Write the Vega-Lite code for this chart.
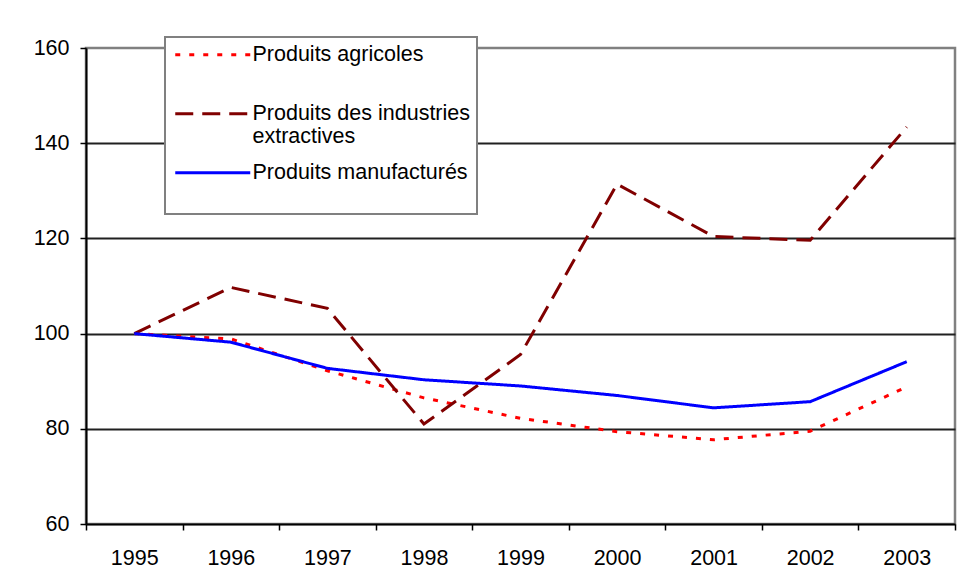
{
  "$schema": "https://vega.github.io/schema/vega-lite/v6.json",
  "width": 869,
  "height": 476,
  "autosize": "none",
  "padding": {"left": 86, "top": 48, "right": 4, "bottom": 63},
  "background": "white",
  "config": {
    "font": "Liberation Sans",
    "view": {"stroke": "#808080", "strokeWidth": 2.5},
    "legend": {"strokeColor": "#808080", "strokeWidth": 2, "fillColor": "white"}
  },
  "data": {
    "values": [
      {"annee": "1995", "serie": "Produits agricoles", "valeur": 100},
      {"annee": "1996", "serie": "Produits agricoles", "valeur": 98.9},
      {"annee": "1997", "serie": "Produits agricoles", "valeur": 92.2},
      {"annee": "1998", "serie": "Produits agricoles", "valeur": 86.5},
      {"annee": "1999", "serie": "Produits agricoles", "valeur": 82.2},
      {"annee": "2000", "serie": "Produits agricoles", "valeur": 79.4},
      {"annee": "2001", "serie": "Produits agricoles", "valeur": 77.7},
      {"annee": "2002", "serie": "Produits agricoles", "valeur": 79.5},
      {"annee": "2003", "serie": "Produits agricoles", "valeur": 88.8},
      {"annee": "1995", "serie": "Produits des industries extractives", "valeur": 100},
      {"annee": "1996", "serie": "Produits des industries extractives", "valeur": 109.7},
      {"annee": "1997", "serie": "Produits des industries extractives", "valeur": 105.3},
      {"annee": "1998", "serie": "Produits des industries extractives", "valeur": 81.0},
      {"annee": "1999", "serie": "Produits des industries extractives", "valeur": 95.6},
      {"annee": "2000", "serie": "Produits des industries extractives", "valeur": 131.4},
      {"annee": "2001", "serie": "Produits des industries extractives", "valeur": 120.4},
      {"annee": "2002", "serie": "Produits des industries extractives", "valeur": 119.6},
      {"annee": "2003", "serie": "Produits des industries extractives", "valeur": 143.4},
      {"annee": "1995", "serie": "Produits manufacturés", "valeur": 100},
      {"annee": "1996", "serie": "Produits manufacturés", "valeur": 98.2},
      {"annee": "1997", "serie": "Produits manufacturés", "valeur": 92.7},
      {"annee": "1998", "serie": "Produits manufacturés", "valeur": 90.3},
      {"annee": "1999", "serie": "Produits manufacturés", "valeur": 89.0},
      {"annee": "2000", "serie": "Produits manufacturés", "valeur": 87.0},
      {"annee": "2001", "serie": "Produits manufacturés", "valeur": 84.4},
      {"annee": "2002", "serie": "Produits manufacturés", "valeur": 85.7},
      {"annee": "2003", "serie": "Produits manufacturés", "valeur": 94.1}
    ]
  },
  "mark": {"type": "line", "strokeCap": "butt", "strokeJoin": "miter"},
  "encoding": {
    "x": {
      "field": "annee",
      "type": "ordinal",
      "bandPosition": 0.5,
      "scale": {"type": "band", "paddingInner": 0, "paddingOuter": 0},
      "axis": {
        "title": null,
        "labelAngle": 0,
        "labelFontSize": 21.5,
        "labelColor": "black",
        "labelPadding": 17,
        "domainColor": "black",
        "domainWidth": 2,
        "tickColor": "black",
        "tickWidth": 1.5,
        "tickSize": 6,
        "tickBand": "extent",
        "grid": false
      }
    },
    "y": {
      "field": "valeur",
      "type": "quantitative",
      "scale": {"domain": [60, 160], "nice": false},
      "axis": {
        "title": null,
        "values": [60, 80, 100, 120, 140, 160],
        "labelFontSize": 21.5,
        "labelColor": "black",
        "labelPadding": 11,
        "domainColor": "black",
        "domainWidth": 2,
        "tickColor": "black",
        "tickWidth": 1.5,
        "tickSize": 6,
        "grid": true,
        "gridColor": {"condition": {"test": "datum.value == 160 || datum.value == 60", "value": "transparent"}, "value": "#202020"},
        "gridWidth": 2
      }
    },
    "color": {
      "field": "serie",
      "type": "nominal",
      "scale": {
        "domain": ["Produits agricoles", "Produits des industries extractives", "Produits manufacturés"],
        "range": ["#FF0000", "#800000", "#0000FF"]
      },
      "legend": {
        "title": null,
        "orient": "none",
        "legendX": 79,
        "legendY": -11,
        "symbolType": "M-1,0H9",
        "symbolSize": 225,
        "labelFontSize": 21.5,
        "labelColor": "black",
        "labelLimit": 0,
        "labelOffset": 59,
        "labelBaseline": "middle",
        "labelLineHeight": 25,
        "labelExpr": "datum.label == 'Produits des industries extractives' ? ['Produits des industries', 'extractives'] : [datum.label, '']",
        "rowPadding": 13,
        "padding": 7
      }
    },
    "strokeDash": {
      "field": "serie",
      "type": "nominal",
      "scale": {
        "domain": ["Produits agricoles", "Produits des industries extractives", "Produits manufacturés"],
        "range": [[5, 9], [18, 9], [1, 0]]
      }
    },
    "strokeWidth": {
      "field": "serie",
      "type": "nominal",
      "scale": {
        "domain": ["Produits agricoles", "Produits des industries extractives", "Produits manufacturés"],
        "range": [3, 3, 1.8]
      }
    }
  }
}
